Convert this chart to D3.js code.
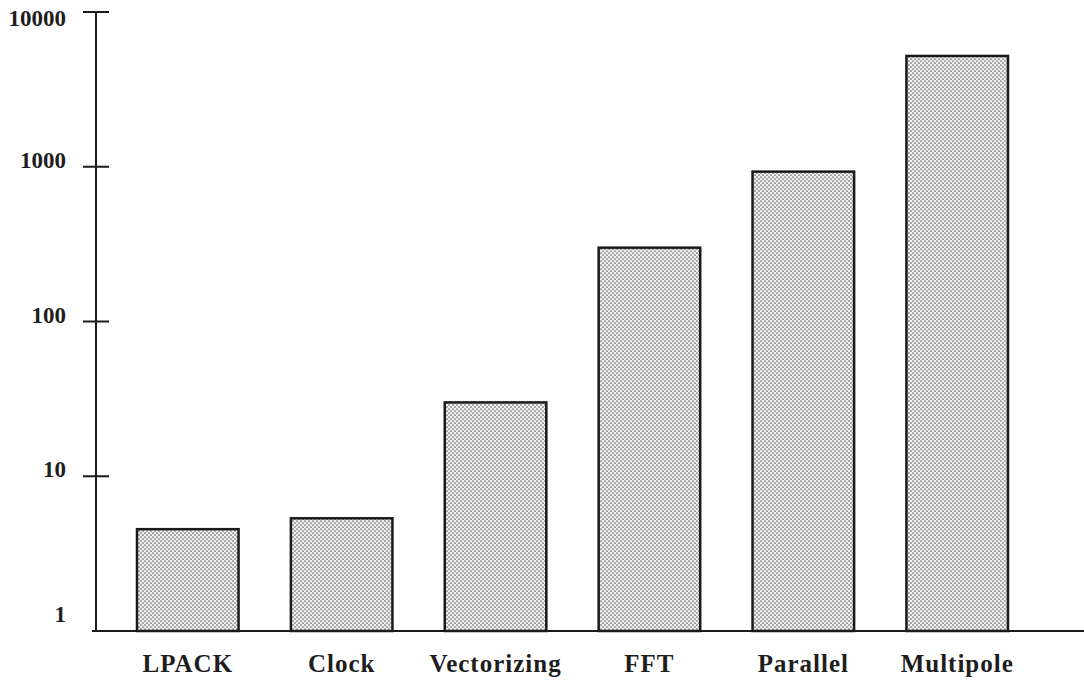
<!DOCTYPE html>
<html>
<head>
<meta charset="utf-8">
<script src="https://cdn.jsdelivr.net/npm/d3@7"></script>
<style>
  body { margin: 0; background: #fff; }
  svg { display: block; }
  text { font-family: "Liberation Serif", "Times New Roman", serif; font-weight: bold; fill: #1e1e1e; }
</style>
</head>
<body>
<div id="chart"></div>
<script>
// Chart values (log scale)
var categories = ['LPACK', 'Clock', 'Vectorizing', 'FFT', 'Parallel', 'Multipole'];
var values = [4.55, 5.35, 30, 300, 930, 5200];
var tickValues = [1, 10, 100, 1000, 10000];
var tickLabels = ['1', '10', '100', '1000', '10000'];

var width = 1084, height = 681;
var axisX = 96, baseY = 631, topY = 12;

var svg = d3.select('#chart').append('svg')
  .attr('width', width)
  .attr('height', height);

// Dotted halftone fill for the bars
var pat = svg.append('defs').append('pattern')
  .attr('id', 'dots')
  .attr('patternUnits', 'userSpaceOnUse')
  .attr('width', 4)
  .attr('height', 4);
pat.append('rect').attr('width', 4).attr('height', 4).attr('fill', '#efefef');
pat.append('circle').attr('cx', 1).attr('cy', 1).attr('r', 0.85).attr('fill', '#666');
pat.append('circle').attr('cx', 3).attr('cy', 3).attr('r', 0.85).attr('fill', '#666');

var y = d3.scaleLog()
  .domain([1, 10000])
  .range([baseY, topY]);

var x = d3.scaleBand()
  .domain(categories)
  .range([137, 1008])
  .paddingInner(0.34)
  .paddingOuter(0);

// Bars
svg.selectAll('rect.bar')
  .data(values)
  .join('rect')
    .attr('class', 'bar')
    .attr('x', (d, i) => x(categories[i]))
    .attr('y', d => y(d))
    .attr('width', x.bandwidth())
    .attr('height', d => baseY - y(d))
    .attr('fill', 'url(#dots)')
    .attr('stroke', '#1a1a1a')
    .attr('stroke-width', 2.5);

// Y axis: vertical line, crossing ticks
var yAxis = svg.append('g');
yAxis.append('line')
  .attr('x1', axisX).attr('x2', axisX)
  .attr('y1', y(10000)).attr('y2', baseY)
  .attr('stroke', '#1a1a1a')
  .attr('stroke-width', 2);

yAxis.selectAll('line.tick')
  .data(tickValues.filter(d => d > 1))
  .join('line')
    .attr('class', 'tick')
    .attr('x1', axisX - 13)
    .attr('x2', axisX + 13)
    .attr('y1', d => y(d))
    .attr('y2', d => y(d))
    .attr('stroke', '#1a1a1a')
    .attr('stroke-width', 2);

yAxis.selectAll('text')
  .data(tickValues)
  .join('text')
    .attr('x', axisX - 30)
    .attr('y', d => Math.min(Math.max(y(d) - 7, 18), baseY - 17))
    .attr('dy', '0.35em')
    .attr('text-anchor', 'end')
    .attr('font-size', 23)
    .text((d, i) => tickLabels[i]);

// Baseline (x axis) running to the right edge
svg.append('line')
  .attr('x1', axisX - 4).attr('x2', width)
  .attr('y1', baseY).attr('y2', baseY)
  .attr('stroke', '#1a1a1a')
  .attr('stroke-width', 2);

// Category labels
svg.selectAll('text.cat')
  .data(categories)
  .join('text')
    .attr('class', 'cat')
    .attr('x', d => x(d) + x.bandwidth() / 2)
    .attr('y', 672)
    .attr('text-anchor', 'middle')
    .attr('font-size', 25)
    .attr('letter-spacing', 1)
    .text(d => d);
</script>
</body>
</html>
